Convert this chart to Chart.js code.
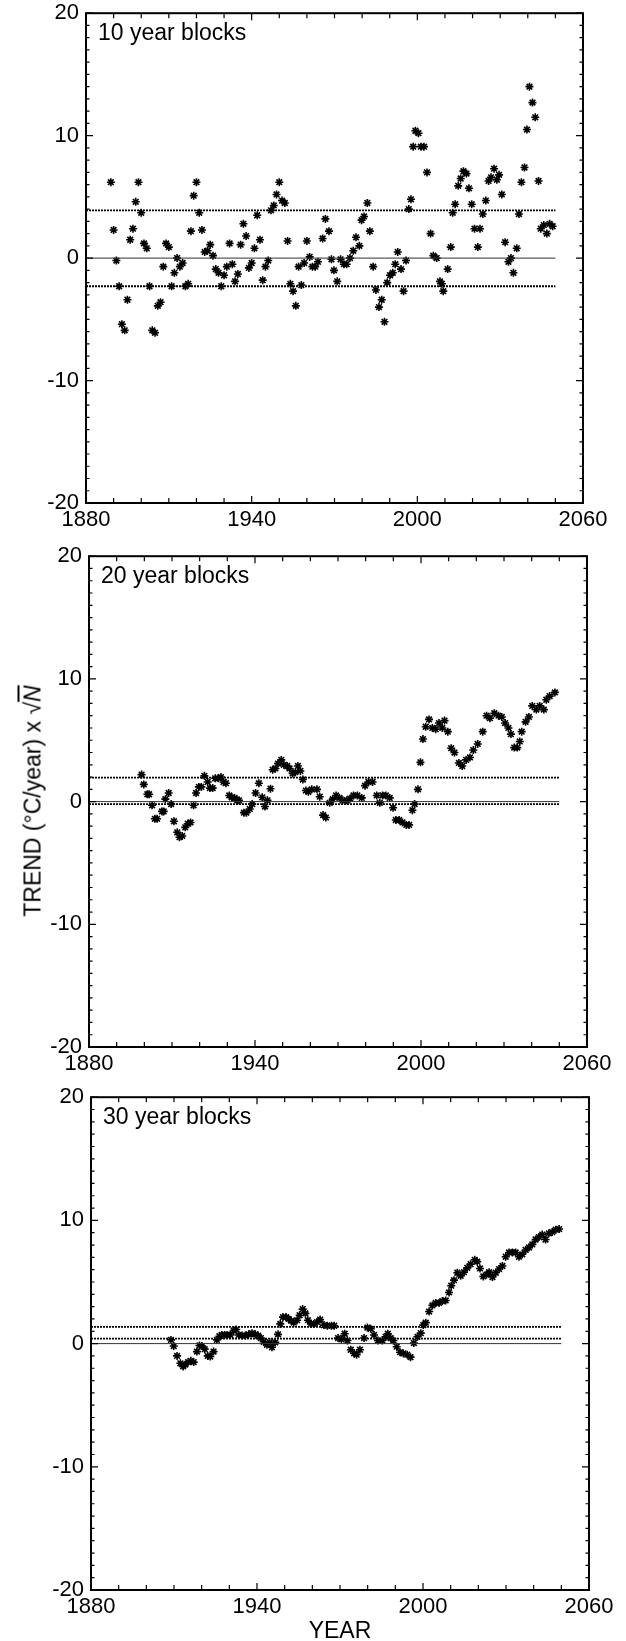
<!DOCTYPE html>
<html>
<head>
<meta charset="utf-8">
<script src="https://cdn.jsdelivr.net/npm/chart.js@4.4.1/dist/chart.umd.min.js"></script>
<style>
  body { margin: 0; background: #fff; width: 626px; height: 1641px; position: relative; overflow: hidden;
         font-family: "Liberation Sans", Arial, sans-serif; color: #000; }
  canvas { position: absolute; left: 0; }
  #ytitle { position: absolute; left: 33px; top: 801px; transform: translate(-50%, -50%) rotate(-90deg);
            white-space: nowrap; font-size: 23px; }
  #ytitle .n { font-style: italic; text-decoration: overline; }
  #xtitle { position: absolute; left: 340px; top: 1630px; transform: translate(-50%, -50%); font-size: 23px; }
</style>
</head>
<body>
<canvas id="chart10" width="626" height="550" style="top:-7px"></canvas>
<canvas id="chart20" width="626" height="551" style="top:536px"></canvas>
<canvas id="chart30" width="626" height="553" style="top:1077px"></canvas>
<div id="ytitle">TREND (°C/year) x √<span class="n">N</span></div>
<div id="xtitle">YEAR</div>
<script>
const xTicks = [1880, 1940, 2000, 2060];
const yTicks = [-20, -10, 0, 10, 20];
const lineSpan = [1880, 2050];

// 10 year blocks
const years10 = [
  1889, 1890, 1891, 1892, 1893, 1894, 1895, 1896, 1897, 1898,
  1899, 1900, 1901, 1902, 1903, 1904, 1905, 1906, 1907, 1908,
  1909, 1910, 1911, 1912, 1913, 1914, 1915, 1916, 1917, 1918,
  1919, 1920, 1921, 1922, 1923, 1924, 1925, 1926, 1927, 1928,
  1929, 1930, 1931, 1932, 1933, 1934, 1935, 1936, 1937, 1938,
  1939, 1940, 1941, 1942, 1943, 1944, 1945, 1946, 1947, 1948,
  1949, 1950, 1951, 1952, 1953, 1954, 1955, 1956, 1957, 1958,
  1959, 1960, 1961, 1962, 1963, 1964,
  1965.7, 1966.7, 1968.0, 1968.9, 1969.8, 1971.0, 1972.2, 1973.4, 1974.4, 1975.6,
  1976.8, 1977.8, 1979.0, 1979.8, 1980.7, 1981.9, 1982.8, 1984.0, 1985.0, 1986.1,
  1987.1, 1988.1, 1989.1, 1990.1, 1991.1, 1992.0, 1992.9, 1994.1, 1995.0, 1995.9,
  1996.9, 1997.7, 1998.5, 1999.3, 2000.4, 2001.3, 2002.4, 2003.5, 2004.8, 2005.8,
  2007.0, 2008.2, 2008.9, 2009.4, 2011.0, 2012.1, 2012.8, 2013.7, 2014.8, 2015.7,
  2016.7, 2017.8, 2018.7, 2019.7, 2020.7, 2021.9, 2022.7, 2023.7, 2024.8, 2025.8,
  2026.7, 2027.8, 2028.8, 2029.6, 2030.6, 2031.8, 2033.0, 2033.9, 2034.8, 2036.0,
  2036.8, 2037.7, 2038.8, 2039.7, 2040.6, 2041.7, 2042.7, 2043.9, 2044.7, 2045.8,
  2046.9, 2047.9, 2049.0
];
const trend10 = [
  6.2, 2.3, -0.2, -2.3, -5.4, -5.9, -3.4, 1.5, 2.4, 4.6,
  6.2, 3.7, 1.2, 0.8, -2.3, -5.9, -6.1, -3.9, -3.6, -0.7,
  1.2, 0.9, -2.3, -1.2, 0.0, -0.7, -0.4, -2.3, -2.1, 2.2,
  5.1, 6.2, 3.7, 2.3, 0.5, 0.6, 1.1, 0.2, -0.9, -1.2,
  -2.3, -1.4, -0.7, 1.2, -0.5, -1.9, -1.3, 1.1, 2.8, 1.8,
  -0.8, -0.4, 0.8, 3.5, 1.5, -1.8, -0.7, -0.2, 3.9, 4.3,
  5.2, 6.2, 4.7, 4.5, 1.4, -2.1, -2.7, -3.9, -0.7, -2.2,
  -0.4, 1.4, 0.1, -0.7, -0.7, -0.3,
  1.6, 3.2, 2.2, -0.1, -1.0, -1.9, -0.1, -0.5, -0.5, 0.0,
  0.6, 1.7, 1.0, 3.1, 3.4, 4.5, 2.2, -0.7, -2.6, -4.0,
  -3.4, -5.2, -2.0, -1.4, -1.2, -0.5, 0.5, -0.9, -2.7, -0.2,
  4.0, 4.8, 9.1, 10.4, 10.2, 9.1, 9.1, 7.0, 2.0, 0.2,
  0.0, -1.9, -2.1, -2.7, -0.9, 0.9, 3.7, 4.4, 5.9, 6.5,
  7.1, 6.9, 5.7, 4.4, 2.4, 0.9, 2.4, 3.6, 4.7, 6.3,
  6.6, 7.3, 6.4, 6.8, 5.2, 1.3, -0.3, 0.0, -1.2, 0.8,
  3.6, 6.2, 7.4, 10.5, 14.0, 12.7, 11.5, 6.3, 2.4, 2.7,
  2.0, 2.8, 2.6
];
const levels10 = [3.9, 0, -2.3];

// 20 year blocks
const years20 = [
  1899.0, 1899.8, 1901.1, 1901.7, 1902.8, 1903.8, 1904.6, 1906.4, 1907.0, 1907.6,
  1908.8, 1909.7, 1910.7, 1911.9, 1912.7, 1913.7, 1914.8, 1915.7, 1916.7, 1917.8,
  1918.7, 1919.7, 1920.6, 1921.7, 1922.9, 1923.7, 1924.7, 1925.6, 1926.7, 1927.7,
  1928.6, 1929.5, 1930.7, 1931.6, 1932.6, 1933.6, 1934.2, 1936.0, 1936.9, 1938.1,
  1939.0, 1940.2, 1941.4, 1942.6, 1943.6, 1944.5, 1945.6, 1946.4, 1947.4, 1948.3,
  1949.5, 1950.4, 1951.6, 1952.5, 1953.6, 1954.6, 1955.5, 1956.4, 1957.3, 1958.4,
  1959.3, 1960.5, 1962.4, 1963.4, 1964.6, 1965.6, 1967.0, 1968.1, 1969.3, 1970.5,
  1971.7, 1973.2, 1974.4, 1975.6, 1977.0, 1978.6, 1979.8, 1981.0, 1982.5, 1984.0,
  1985.1, 1986.1, 1987.3, 1988.7, 1989.9, 1990.9, 1992.1, 1993.3, 1994.7, 1995.7,
  1996.9, 1997.7, 1998.9, 1999.8, 2000.7, 2001.7, 2002.9, 2004.1, 2005.3, 2006.5,
  2007.7, 2008.5, 2009.7, 2010.9, 2012.1, 2013.7, 2014.9, 2016.3, 2017.7, 2018.9,
  2020.5, 2022.3, 2023.7, 2024.9, 2026.5, 2028.0, 2029.2, 2030.4, 2031.6, 2032.5,
  2033.7, 2034.8, 2035.7, 2036.4, 2037.8, 2039.0, 2040.2, 2041.7, 2042.9, 2044.4,
  2045.3, 2046.5, 2048.4
];
const trend20 = [
  2.2, 1.4, 0.6, 0.6, -0.3, -1.4, -1.4, -0.8, -0.8, 0.2,
  0.7, -0.2, -1.6, -2.5, -2.9, -2.8, -2.1, -1.8, -1.7, -0.3,
  0.7, 1.2, 1.2, 2.1, 1.6, 1.1, 1.1, 1.9, 1.9, 2.0,
  1.6, 1.5, 0.5, 0.35, 0.3, 0.1, 0.1, -0.9, -0.9, -0.6,
  -0.2, 0.7, 1.5, 0.35, -0.4, 0.1, 1.05, 2.6, 2.7, 3.1,
  3.4, 3.0, 2.9, 2.7, 2.3, 2.4, 2.9, 2.5, 1.8, 0.9,
  0.8, 1.0, 1.0, 0.4, -1.1, -1.3, -0.1, 0.2, 0.5, 0.3,
  0.1, 0.1, 0.25, 0.5, 0.5, 0.3, 1.3, 1.6, 1.6, 0.5,
  -0.1, 0.5, 0.5, 0.3, -0.5, -1.5, -1.5, -1.7, -1.9, -1.9,
  -0.7, -0.2, 1.0, 3.2, 5.1, 6.1, 6.7, 6.0, 5.9, 6.4,
  6.0, 6.6, 5.7, 4.35, 4.0, 3.15, 2.9, 3.4, 3.6, 4.2,
  4.7, 5.7, 7.0, 6.8, 7.2, 7.0, 6.9, 6.4, 6.0, 5.5,
  4.4, 4.4, 4.9, 5.7, 6.5, 6.9, 7.8, 7.5, 7.8, 7.5,
  8.3, 8.6, 8.9
];
const levels20 = [1.95, 0, -0.2];

// 30 year blocks
const years30 = [
  1908.9, 1909.9, 1911.1, 1912.3, 1913.3, 1914.1, 1915.1, 1916.1, 1917.1, 1918.3,
  1919.2, 1920.1, 1921.1, 1922.2, 1923.1, 1924.3, 1925.5, 1926.4, 1927.3, 1928.3,
  1929.2, 1930.4, 1931.6, 1932.5, 1933.4, 1934.6, 1935.8, 1937.0, 1938.2, 1939.4,
  1940.4, 1941.4, 1942.4, 1943.6, 1944.6, 1945.4, 1946.6, 1947.6, 1948.4, 1949.4,
  1950.5, 1951.4, 1952.4, 1953.3, 1954.5, 1955.4, 1956.5, 1957.5, 1958.4, 1959.5,
  1960.5, 1961.7, 1962.8, 1964.2, 1965.4, 1966.9, 1967.9, 1969.3, 1970.5, 1971.7,
  1972.7, 1973.9, 1975.1, 1976.0, 1977.2, 1978.7, 1979.9, 1981.1, 1982.3, 1983.7,
  1985.3, 1986.5, 1987.3, 1988.3, 1989.3, 1990.5, 1991.7, 1992.9, 1994.3, 1995.5,
  1996.7, 1998.0, 1999.2, 2000.1, 2001.0, 2002.2, 2003.4, 2004.6, 2005.8, 2007.0,
  2008.2, 2009.4, 2010.2, 2011.2, 2012.4, 2013.6, 2014.8, 2016.0, 2017.2, 2018.7,
  2019.6, 2020.6, 2021.8, 2023.0, 2023.9, 2025.1, 2026.3, 2027.5, 2028.7, 2029.9,
  2031.1, 2032.3, 2033.5, 2034.7, 2035.9, 2037.1, 2038.3, 2039.5, 2040.7, 2041.9,
  2043.1, 2044.3, 2045.5, 2046.7, 2048.0, 2049.2
];
const trend30 = [
  0.3, -0.2, -1.0, -1.6, -1.85, -1.7, -1.5, -1.4, -1.5, -0.65,
  -0.15, -0.2, -0.45, -1.0, -1.05, -0.65, 0.3, 0.6, 0.7, 0.7,
  0.7, 0.7, 1.05, 1.15, 0.7, 0.65, 0.65, 0.75, 0.85, 0.75,
  0.65, 0.45, 0.15, -0.1, 0.1, -0.3, 0.1, 0.75, 1.6, 2.15,
  2.15, 2.0, 1.85, 1.7, 1.9, 2.3, 2.8, 2.45, 1.9, 1.6,
  1.6, 1.75, 1.95, 1.5, 1.45, 1.45, 1.45, 0.45, 0.35, 0.8,
  0.25, -0.5, -0.8, -0.9, -0.5, 0.45, 1.3, 1.2, 0.7, 0.25,
  0.25, 0.55, 0.8, 0.45, 0.25, -0.25, -0.7, -0.8, -0.9, -1.1,
  0.05, 0.55, 0.85, 1.5, 1.7, 2.6, 3.1, 3.3, 3.3, 3.45,
  3.5, 4.15, 4.7, 5.15, 5.75, 5.5, 5.8, 6.15, 6.45, 6.8,
  6.65, 6.1, 5.45, 5.6, 5.8, 5.4, 5.75, 6.05, 6.3, 7.05,
  7.4, 7.4, 7.4, 7.05, 7.25, 7.6, 7.8, 8.05, 8.45, 8.65,
  8.85, 8.45, 8.95, 9.05, 9.25, 9.3
];
const levels30 = [1.35, 0.4, 0];

const FONT = '"Liberation Sans", Arial, sans-serif';

// frame, inward ticks and the panel caption
const frameTicks = {
  id: 'frameTicks',
  afterDatasetsDraw(chart, args, opts) {
    const { ctx, chartArea: a, scales: { x, y } } = chart;
    ctx.save();
    ctx.strokeStyle = '#000';
    ctx.lineWidth = 1.2;
    ctx.beginPath();
    for (let v = x.min; v <= x.max; v += 10) {
      const px = x.getPixelForValue(v);
      const len = (v - x.min) % 60 === 0 ? 7 : 5;
      ctx.moveTo(px, a.bottom); ctx.lineTo(px, a.bottom - len);
      ctx.moveTo(px, a.top); ctx.lineTo(px, a.top + len);
    }
    for (let v = y.min; v <= y.max; v += 1) {
      const py = y.getPixelForValue(v);
      const len = v % 10 === 0 ? 7 : 3.5;
      ctx.moveTo(a.left, py); ctx.lineTo(a.left + len, py);
      ctx.moveTo(a.right, py); ctx.lineTo(a.right - len, py);
    }
    ctx.stroke();
    ctx.lineWidth = 2;
    ctx.strokeRect(a.left, a.top, a.right - a.left, a.bottom - a.top);
    ctx.fillStyle = '#000';
    ctx.font = '23px ' + FONT;
    ctx.textBaseline = 'middle';
    ctx.fillText(opts.label, a.left + 12, a.top + 20);
    ctx.restore();
  }
};

const renderPanel = (id, label, years, values, levels, styles, box) => {
  const ctx = document.getElementById(id).getContext('2d');
  const lineSets = levels.map((lv, i) => ({
    type: 'line',
    data: lineSpan.map(x => ({ x: x, y: lv })),
    borderColor: styles[i] === 'solid' ? '#333' : '#000',
    borderWidth: styles[i] === 'solid' ? 1 : 1.8,
    borderDash: styles[i] === 'solid' ? [] : [2, 1],
    pointRadius: 0,
    showLine: true,
    fill: false
  }));
  new Chart(ctx, {
    type: 'scatter',
    data: {
      datasets: [
        ...lineSets,
        {
          data: years.map((yr, i) => ({ x: yr, y: values[i] })),
          pointStyle: 'star',
          pointRadius: 4,
          pointBorderWidth: 1.6,
          borderColor: '#000',
          backgroundColor: '#000'
        }
      ]
    },
    options: {
      responsive: false,
      animation: false,
      devicePixelRatio: 1,
      layout: { padding: { top: 0, right: box.right, left: 0, bottom: 0 } },
      plugins: {
        legend: { display: false },
        tooltip: { enabled: false },
        frameTicks: { label: label }
      },
      scales: {
        x: {
          type: 'linear',
          min: 1880,
          max: 2060,
          afterBuildTicks: s => { s.ticks = xTicks.map(v => ({ value: v })); },
          afterFit: s => { s.height = 40; },
          grid: { display: false, drawTicks: false },
          border: { display: false },
          ticks: {
            callback: v => String(v),
            color: '#000',
            font: { family: FONT, size: 22 },
            padding: 4,
            maxRotation: 0,
            autoSkip: false
          }
        },
        y: {
          type: 'linear',
          min: -20,
          max: 20,
          afterBuildTicks: s => { s.ticks = yTicks.map(v => ({ value: v })); },
          afterFit: s => { s.width = box.left; },
          grid: { display: false, drawTicks: false },
          border: { display: false },
          ticks: {
            callback: v => String(v),
            color: '#000',
            font: { family: FONT, size: 22 },
            padding: 7
          }
        }
      }
    },
    plugins: [frameTicks]
  });
};

document.addEventListener('DOMContentLoaded', () => {
  renderPanel('chart10', '10 year blocks', years10, trend10, levels10, ['dot', 'solid', 'dot'], { left: 86, right: 43 });
  renderPanel('chart20', '20 year blocks', years20, trend20, levels20, ['dot', 'solid', 'dot'], { left: 89, right: 39 });
  renderPanel('chart30', '30 year blocks', years30, trend30, levels30, ['dot', 'dot', 'solid'], { left: 91, right: 37 });
});
</script>
</body>
</html>
